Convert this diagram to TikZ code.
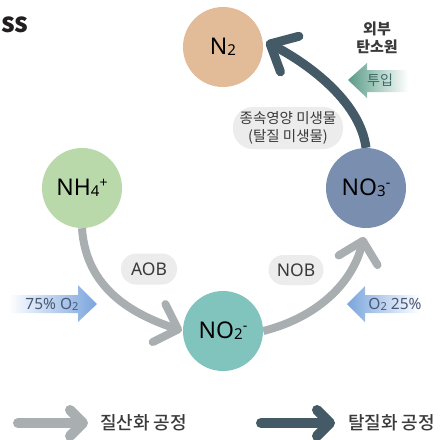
\documentclass[tikz,border=0pt]{standalone}
\usepackage{fontspec}
\setmainfont{Noto Sans}
\newfontfamily\kr{Noto Sans CJK KR}
\newfontfamily\krm{Noto Sans CJK KR Medium}
\usetikzlibrary{arrows.meta}
\definecolor{cN}{HTML}{E2BC98}
\definecolor{cNH}{HTML}{B9D9AB}
\definecolor{cNOt}{HTML}{7A8EB0}
\definecolor{cNOd}{HTML}{81C4BE}
\definecolor{cgray}{HTML}{A9AEB1}
\definecolor{cdark}{HTML}{445A67}
\definecolor{cpill}{HTML}{ECECEC}
\definecolor{cblue}{HTML}{7AA5DD}
\definecolor{cteal}{HTML}{5A9C87}
\definecolor{ctext}{HTML}{3A3A3A}
\definecolor{co2text}{HTML}{4A5877}
\definecolor{ctealtext}{HTML}{3D6A66}
\definecolor{ctitle}{HTML}{231F20}
\newcommand{\msub}[1]{{\fontsize{15}{15}\selectfont\raisebox{-1pt}{#1}}}
\newcommand{\msup}[1]{{\fontsize{14}{14}\selectfont\raisebox{8pt}{#1}}}
\newcommand{\osub}[1]{{\fontsize{11}{11}\selectfont\raisebox{-1pt}{#1}}}
\pgfdeclarelayer{back}
\pgfdeclarelayer{bg}
\pgfsetlayers{back,bg,main}
\begin{document}
\begin{tikzpicture}[x=1pt,y=-1pt,
  species/.style={circle, minimum size=80pt, inner sep=0pt, font=\fontsize{23}{23}\selectfont, text=black},
  pill/.style={fill=cpill, rounded corners=15pt, minimum width=56pt, minimum height=31pt, inner sep=0pt, font=\fontsize{17.5}{17.5}\selectfont, text=ctext},
  nitr/.style={draw=cgray, line width=8pt, -{Straight Barb[length=20pt,width=40pt,round]}},
  denitr/.style={draw=cdark, line width=9pt, -{Straight Barb[length=22pt,width=40pt,round]}},
  o2lbl/.style={font=\fontsize{15.5}{15.5}\selectfont, text=co2text, inner sep=0pt},
  legtext/.style={font=\krm\fontsize{18}{18}\selectfont, text=ctext, anchor=west, inner sep=0pt}]
\begin{pgfonlayer}{back}
\fill[white] (0,0) rectangle (440,440);
\end{pgfonlayer}
\useasboundingbox (0,0) rectangle (440,440);

% title fragment
\node[anchor=base west, inner sep=0pt, font=\kr\bfseries\fontsize{27}{27}\selectfont, text=ctitle] (title) at (1,32) {ss};

% species
\node[species, fill=cN] (n2) at (223,47) {N\msub{2}};
\node[species, fill=cNH] (nh4) at (82,188) {NH\msub{4}\msup{+}};
\node[species, fill=cNOt] (no3) at (366,188) {NO\msub{3}\msup{-}};
\node[species, fill=cNOd] (no2) at (223,331) {NO\msub{2}\msup{-}};

% connectors
\begin{pgfonlayer}{bg}
\draw[nitr, shorten >=1pt] (nh4.270) .. controls (86,290) and (135,315) .. (no2.180);
\draw[nitr, shorten >=9pt] (no2.0) .. controls (315,318) and (352,285) .. (no3.270);
\draw[denitr, shorten >=4pt] (no3.90) .. controls (360,100) and (305,62) .. (n2.10);
\end{pgfonlayer}

% microbe labels
\node[pill] (aob) at (149,269) {AOB};
\node[pill, minimum width=55pt, minimum height=30pt] (nob) at (296,270) {NOB};
\node[fill=cpill, rounded corners=20pt, minimum width=110pt, minimum height=42pt, inner sep=0pt, align=center,
      font=\kr\fontsize{14.5}{17.5}\selectfont, text=ctext] (het) at (288,128) {종속영양 미생물\\(탈질 미생물)};

% external carbon source
\node[align=center, inner sep=0pt, font=\kr\bfseries\fontsize{15}{17.5}\selectfont, text=ctext] (ext) at (377,38) {외부\\탄소원};
\shade[left color=cteal, right color=white] (348,80) -- (367,63) -- (367,70) -- (408,70) -- (408,92) -- (367,92) -- (367,98) -- cycle;
\node[inner sep=0pt, font=\kr\fontsize{14}{14}\selectfont, text=ctealtext] (input) at (380,80) {투입};

% oxygen inputs
\shade[left color=white, right color=cblue] (8,295) -- (78,295) -- (78,285) -- (97,304) -- (78,322) -- (78,313) -- (8,313) -- cycle;
\node[o2lbl] (o2a) at (52,304) {75\% O\osub{2}};
\shade[left color=cblue, right color=white] (347,304) -- (365,286) -- (365,295) -- (420,295) -- (420,313) -- (365,313) -- (365,322) -- cycle;
\node[o2lbl] (o2b) at (395,304) {O\osub{2} 25\%};

% legend
\coordinate (lga) at (18,423);
\coordinate (lgb) at (88,423);
\coordinate (lgc) at (261,423);
\coordinate (lgd) at (335,423);
\draw[draw=cgray, line width=10pt, line cap=round, -{Straight Barb[length=13pt,width=26pt,round]}] (lga) -- (lgb);
\draw[draw=cdark, line width=10pt, line cap=round, -{Straight Barb[length=13pt,width=26pt,round]}] (lgc) -- (lgd);
\node[legtext] (lgt1) at (100,423) {질산화 공정};
\node[legtext] (lgt2) at (348,423) {탈질화 공정};
\end{tikzpicture}
\end{document}
